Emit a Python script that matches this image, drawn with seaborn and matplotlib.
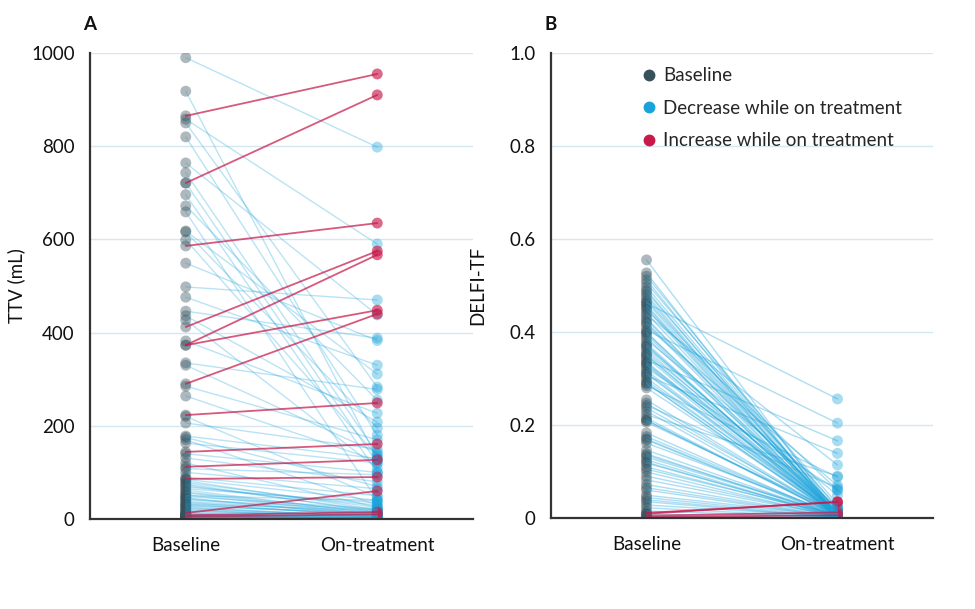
import numpy as np
import pandas as pd
import matplotlib
matplotlib.use("Agg")
import matplotlib.pyplot as plt
from matplotlib.lines import Line2D
from matplotlib.ticker import MultipleLocator, FixedLocator, FuncFormatter
import seaborn as sns

# ---------------- data ----------------
time_labels = ["Baseline", "On-treatment"]

# Panel A: TTV (mL), paired per patient (decreases first, then increases)
ttv_baseline = [990, 918, 858, 850, 820, 764, 743, 721, 696, 672, 659, 618, 616, 599,
                549, 498, 476, 446, 436, 427, 382, 335, 330, 285, 264, 220, 206, 178,
                175, 170, 163, 140, 131, 120, 108, 100, 90, 82, 75, 69, 65, 62, 56, 50,
                48, 45, 41, 36, 33, 30, 28, 26, 22, 18, 16, 12, 10, 9, 7, 6, 5, 4, 3,
                2, 1.5, 1,
                85, 78, 72, 58, 52, 44, 38, 32, 24, 20, 14, 11, 8, 6.5, 4.5, 3.5, 2.5,
                865, 721, 586, 412, 373, 373, 290, 223, 144, 112, 86, 13, 8, 5]
ttv_ontreat = [798, 130, 590, 283, 180, 438, 140, 120, 100, 255, 40, 311, 195, 135,
               383, 470, 330, 388, 208, 109, 227, 278, 142, 170, 125, 47, 150, 130,
               70, 30, 120, 100, 80, 25, 95, 65, 50, 20, 15, 30, 35, 12, 10, 40,
               22, 8, 20, 5, 18, 10, 12, 4, 6, 3, 8, 2, 5, 1, 2, 1, 0.5, 1, 0.5,
               0.3, 0.5, 0.2,
               40, 25, 18, 14, 9, 6, 12, 7, 4, 3, 2, 1, 1.5, 0.8, 0.3, 1, 0.5,
               955, 910, 635, 575, 567, 448, 440, 249, 161, 127, 90, 60, 15, 10]
ttv_direction = ["Decrease"] * 83 + ["Increase"] * 14

# Panel B: DELFI-TF, paired per patient
tf_baseline = [0.555, 0.527, 0.520, 0.512, 0.505, 0.497, 0.490, 0.486, 0.475, 0.468,
               0.462, 0.458, 0.455, 0.447, 0.440, 0.437, 0.430, 0.426, 0.418, 0.411,
               0.404, 0.398, 0.394, 0.388, 0.383, 0.376, 0.372, 0.366, 0.361, 0.355,
               0.351, 0.345, 0.340, 0.336, 0.333, 0.328, 0.322, 0.317, 0.312, 0.306,
               0.301, 0.295, 0.290, 0.285, 0.280, 0.254, 0.247, 0.242, 0.237, 0.230,
               0.222, 0.215, 0.210, 0.206, 0.183, 0.175, 0.168, 0.161, 0.146, 0.138,
               0.131, 0.125, 0.118, 0.110, 0.105, 0.099, 0.082, 0.072, 0.060, 0.049,
               0.044, 0.039, 0.028, 0.022, 0.008, 0.003,
               0.480, 0.465, 0.450, 0.420, 0.400, 0.370, 0.350, 0.330, 0.310, 0.290,
               0.210, 0.170, 0.135, 0.120, 0.090, 0.065, 0.035, 0.015,
               0.011, 0.009, 0.005, 0.002]
tf_ontreat = [0.010, 0.005, 0.020, 0.008, 0.030, 0.012, 0.006, 0.015, 0.004, 0.025,
              0.256, 0.010, 0.003, 0.060, 0.008, 0.114, 0.002, 0.018, 0.005, 0.070,
              0.204, 0.012, 0.004, 0.009, 0.049, 0.002, 0.006, 0.014, 0.003, 0.022,
              0.007, 0.001, 0.166, 0.004, 0.011, 0.002, 0.060, 0.005, 0.008, 0.139,
              0.003, 0.010, 0.001, 0.088, 0.006, 0.004, 0.002, 0.065, 0.007, 0.001,
              0.090, 0.003, 0.005, 0.012, 0.002, 0.004, 0.001, 0.008, 0.003, 0.002,
              0.005, 0.001, 0.004, 0.002, 0.006, 0.001, 0.003, 0.002, 0.001, 0.004,
              0.002, 0.001, 0.003, 0.001, 0.002, 0.001,
              0.004, 0.008, 0.003, 0.020, 0.006, 0.010, 0.002, 0.015, 0.004, 0.003,
              0.007, 0.002, 0.005, 0.001, 0.003, 0.002, 0.001, 0.002,
              0.034, 0.035, 0.012, 0.006]
tf_direction = ["Decrease"] * 94 + ["Increase"] * 4

# ---------------- style ----------------
sns.set_theme(style="white")
plt.rcParams["font.family"] = ["Lato", "DejaVu Sans"]

C_BASE = "#37505a"
C_DEC = "#1aa3db"
C_INC = "#c8194a"
C_AXIS = "#333333"
C_GRID = "#d5e7f0"
FS = 13.5


def long_table(base, post, direction):
    n = len(base)
    return pd.DataFrame({
        "pid": list(range(n)) * 2,
        "t": [0] * n + [1] * n,
        "value": list(base) + list(post),
        "direction": list(direction) * 2,
    })


def draw_panel(ax, df, ymax, major, minor, ylabel, letter, fmt, line_alpha):
    dec = df[df.direction == "Decrease"]
    inc = df[df.direction == "Increase"]
    sns.lineplot(data=dec, x="t", y="value", units="pid", estimator=None,
                 color=C_DEC, alpha=line_alpha, lw=1.0, ax=ax, legend=False)
    sns.lineplot(data=inc, x="t", y="value", units="pid", estimator=None,
                 color=C_INC, alpha=0.72, lw=1.3, ax=ax, legend=False)
    sns.scatterplot(data=df[df.t == 0], x="t", y="value", color=C_BASE,
                    alpha=0.40, s=62, edgecolor="none", ax=ax, legend=False)
    sns.scatterplot(data=dec[dec.t == 1], x="t", y="value", color=C_DEC,
                    alpha=0.38, s=62, edgecolor="none", ax=ax, legend=False)
    sns.scatterplot(data=inc[inc.t == 1], x="t", y="value", color=C_INC,
                    alpha=0.65, s=62, edgecolor="none", ax=ax, legend=False)

    ax.set_xlim(-0.5, 1.5)
    ax.set_ylim(0, ymax)
    ax.set_xticks([0, 1])
    ax.set_xticklabels(time_labels, fontsize=FS, color="#111111")
    ax.xaxis.set_minor_locator(FixedLocator([-0.5, 0.5, 1.5]))
    ax.tick_params(axis="x", which="major", length=0, pad=13)
    ax.tick_params(axis="x", which="minor", length=8, width=1.3,
                   color=C_AXIS, direction="out")
    ax.yaxis.set_major_locator(MultipleLocator(major))
    ax.yaxis.set_minor_locator(MultipleLocator(minor))
    ax.yaxis.set_major_formatter(fmt)
    ax.tick_params(axis="y", which="major", length=7, width=1.2,
                   color=C_AXIS, labelsize=FS, labelcolor="#111111", pad=4)
    ax.tick_params(axis="y", which="minor", length=4, width=1.2, color=C_AXIS)
    ax.grid(False)
    ax.yaxis.grid(True, which="major", color=C_GRID, lw=1.0)
    ax.set_axisbelow(True)
    for s in ["top", "right"]:
        ax.spines[s].set_visible(False)
    for s in ["left", "bottom"]:
        ax.spines[s].set_color(C_AXIS)
        ax.spines[s].set_linewidth(1.6)
        ax.spines[s].set_zorder(5)
    ax.set_xlabel("")
    ax.set_ylabel(ylabel, fontsize=FS, color="#111111")
    ax.yaxis.set_label_coords(-0.17, 0.5)
    ax.text(0.0, 1.062, letter, transform=ax.transAxes, ha="center", va="center",
            fontsize=FS, fontweight="bold", color="#111111")


fig = plt.figure(figsize=(9.75, 6.09), dpi=100)
axA = fig.add_axes([90 / 975, 1 - 519 / 609, 383 / 975, 466 / 609])
axB = fig.add_axes([551 / 975, 1 - 518 / 609, 382 / 975, 465 / 609])

dfA = long_table(ttv_baseline, ttv_ontreat, ttv_direction)
dfB = long_table(tf_baseline, tf_ontreat, tf_direction)

draw_panel(axA, dfA, 1000, 200, 100, "TTV (mL)", "A",
           FuncFormatter(lambda v, p: f"{v:.0f}"), 0.30)
draw_panel(axB, dfB, 1.0, 0.2, 0.1, "DELFI-TF", "B",
           FuncFormatter(lambda v, p: "0" if v == 0 else f"{v:.1f}"), 0.36)

handles = [
    Line2D([], [], marker="o", ls="none", color=C_BASE, markersize=7.5),
    Line2D([], [], marker="o", ls="none", color=C_DEC, markersize=7.5),
    Line2D([], [], marker="o", ls="none", color=C_INC, markersize=7.5),
]
labels = ["Baseline", "Decrease while on treatment", "Increase while on treatment"]
axB.legend(handles, labels, loc="upper left", bbox_to_anchor=(0.213, 0.985),
           frameon=False, fontsize=FS, handletextpad=0.25, labelspacing=0.82,
           handlelength=1.0, borderaxespad=0)

fig.savefig("out.png", dpi=100)
